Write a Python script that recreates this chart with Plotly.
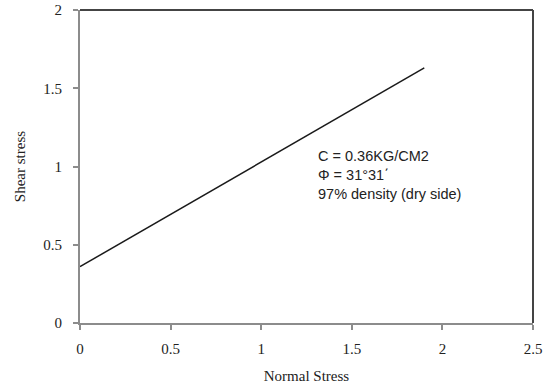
import plotly.graph_objects as go

normal_stress = [0.0, 1.9]
shear_stress = [0.36, 1.63]
x_ticks = [0, 0.5, 1, 1.5, 2, 2.5]
x_tick_labels = ["0", "0.5", "1", "1.5", "2", "2.5"]
y_ticks = [0, 0.5, 1, 1.5, 2]
y_tick_labels = ["0", "0.5", "1", "1.5", "2"]
note_lines = ["C = 0.36KG/CM2", "Φ = 31°31΄", "97% density (dry side)"]

fig = go.Figure()
fig.add_trace(go.Scatter(x=normal_stress, y=shear_stress, mode="lines",
                         line=dict(color="#1a1a1a", width=1.5), showlegend=False))

serif = "Liberation Serif, Times New Roman, serif"
axis_common = dict(showgrid=False, zeroline=False, showline=True, linecolor="#8c8c8c",
                   linewidth=2, ticks="outside", tickcolor="#8c8c8c", ticklen=5, tickwidth=1.5,
                   tickfont=dict(family=serif, size=15, color="#222"), automargin=False)

fig.update_layout(
    width=554, height=390,
    margin=dict(l=80, r=21, t=10, b=67),
    plot_bgcolor="white", paper_bgcolor="white",
    xaxis=dict(range=[0, 2.5], tickvals=x_ticks, ticktext=x_tick_labels, ticklabelstandoff=6,
               title=dict(text="Normal Stress", font=dict(family=serif, size=15, color="#222"), standoff=14),
               **axis_common),
    yaxis=dict(range=[0, 2], tickvals=y_ticks, ticktext=y_tick_labels, ticklabelstandoff=8,
               title=dict(text="Shear stress", font=dict(family=serif, size=15, color="#222"), standoff=14),
               **axis_common),
)
# top and right frame lines
fig.add_shape(type="line", xref="paper", yref="paper", x0=0, x1=1, y0=1, y1=1,
              line=dict(color="#444", width=2))
fig.add_shape(type="line", xref="paper", yref="paper", x0=1, x1=1, y0=0, y1=1,
              line=dict(color="#444", width=2))

fig.add_annotation(x=1.3, y=1.13, xref="x", yref="y", xanchor="left", yanchor="top",
                   text="<br>".join(note_lines), showarrow=False, align="left",
                   font=dict(family="Liberation Sans, Arial, sans-serif", size=14.5, color="#222"))

fig.write_html("out.html")
